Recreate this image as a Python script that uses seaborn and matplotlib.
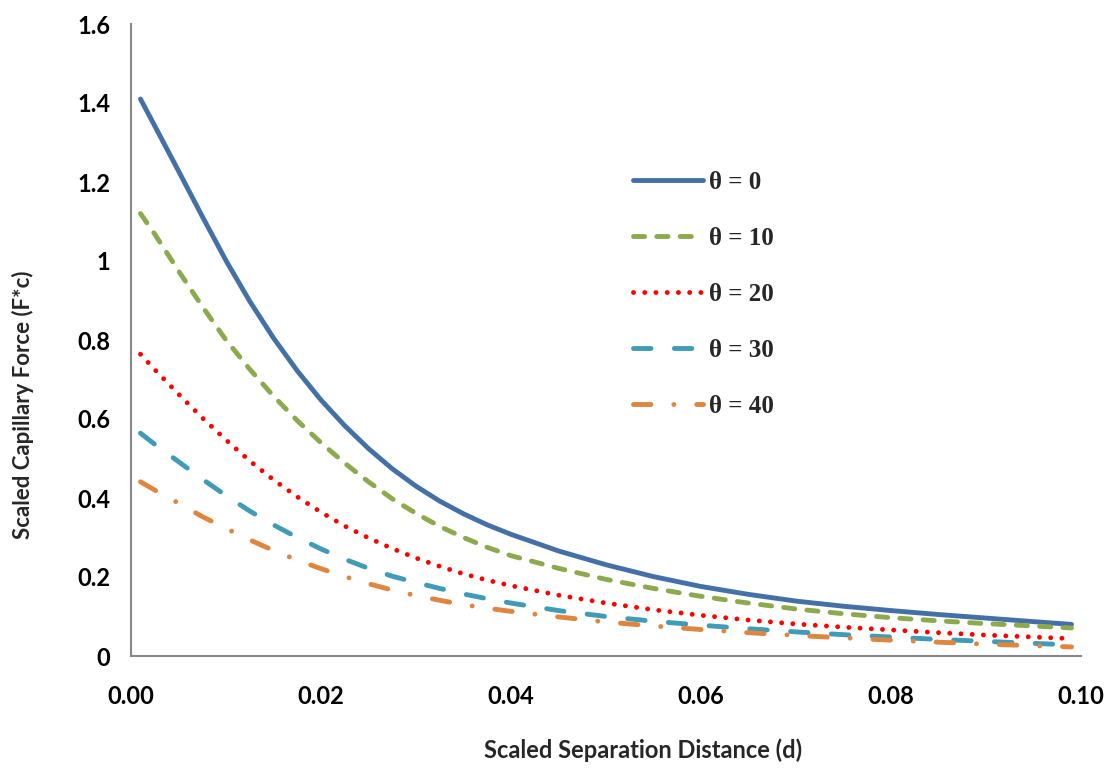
import matplotlib
matplotlib.use("Agg")
import matplotlib.pyplot as plt
import seaborn as sns
import pandas as pd

# ---- data ----
d_values = [0.001, 0.0025, 0.005, 0.0075, 0.010, 0.0125, 0.015, 0.0175, 0.020, 0.0225,
            0.025, 0.0275, 0.030, 0.0325, 0.035, 0.0375, 0.040, 0.045, 0.050, 0.055,
            0.060, 0.065, 0.070, 0.075, 0.080, 0.085, 0.090, 0.095, 0.099]
force_theta0 = [1.410, 1.342, 1.228, 1.113, 1.001, 0.898, 0.805, 0.722, 0.648, 0.583,
                0.525, 0.474, 0.430, 0.392, 0.360, 0.332, 0.308, 0.266, 0.231, 0.201,
                0.176, 0.156, 0.139, 0.126, 0.115, 0.105, 0.096, 0.087, 0.080]
force_theta10 = [1.120, 1.068, 0.975, 0.885, 0.800, 0.726, 0.658, 0.596, 0.540, 0.488,
                 0.441, 0.398, 0.361, 0.328, 0.300, 0.275, 0.254, 0.222, 0.194, 0.171,
                 0.151, 0.134, 0.119, 0.107, 0.097, 0.089, 0.082, 0.076, 0.071]
force_theta20 = [0.764, 0.725, 0.663, 0.603, 0.547, 0.494, 0.446, 0.403, 0.364, 0.329,
                 0.299, 0.272, 0.248, 0.227, 0.208, 0.192, 0.178, 0.154, 0.134, 0.117,
                 0.103, 0.091, 0.081, 0.073, 0.066, 0.059, 0.053, 0.048, 0.044]
force_theta30 = [0.564, 0.536, 0.492, 0.448, 0.406, 0.367, 0.332, 0.300, 0.271, 0.245,
                 0.222, 0.202, 0.186, 0.171, 0.157, 0.145, 0.134, 0.115, 0.100, 0.088,
                 0.078, 0.069, 0.061, 0.054, 0.048, 0.042, 0.037, 0.032, 0.028]
force_theta40 = [0.441, 0.420, 0.387, 0.353, 0.323, 0.294, 0.267, 0.243, 0.221, 0.201,
                 0.183, 0.167, 0.153, 0.141, 0.130, 0.121, 0.113, 0.099, 0.086, 0.076,
                 0.067, 0.059, 0.052, 0.046, 0.040, 0.035, 0.030, 0.026, 0.023]
series_labels = ["θ = 0", "θ = 10", "θ = 20", "θ = 30", "θ = 40"]
x_ticks = [0.00, 0.02, 0.04, 0.06, 0.08, 0.10]
x_tick_labels = ["0.00", "0.02", "0.04", "0.06", "0.08", "0.10"]
y_ticks = [0, 0.2, 0.4, 0.6, 0.8, 1.0, 1.2, 1.4, 1.6]
y_tick_labels = ["0", "0.2", "0.4", "0.6", "0.8", "1", "1.2", "1.4", "1.6"]

# ---- styles ----
colors = ["#4470A8", "#8CAA4B", "#FF0000", "#3F9BB6", "#E0853D"]
linestyles = ["-", (0, (2.3, 2.5)), (0, (0.01, 2.3)), (0, (3.6, 4.8)),
              (0, (3.6, 4.7, 0.01, 4.7))]
lw = 3.5

sns.set_theme(style="white")
plt.rcParams["font.family"] = ["Lato", "DejaVu Sans"]

fig = plt.figure(figsize=(11.15, 7.71), dpi=100)
ax = fig.add_axes([131 / 1115, 1 - 656 / 771, 950 / 1115, 632 / 771])

all_series = [force_theta0, force_theta10, force_theta20, force_theta30, force_theta40]
for vals, lab, col, ls in zip(all_series, series_labels, colors, linestyles):
    df = pd.DataFrame({"d": d_values, "F": vals})
    sns.lineplot(data=df, x="d", y="F", ax=ax, color=col, linewidth=lw,
                 linestyle=ls, label=lab, dash_capstyle="round",
                 solid_capstyle="round", solid_joinstyle="round",
                 dash_joinstyle="round")

ax.set_xlim(0, 0.10)
ax.set_ylim(0, 1.6)
ax.set_xticks(x_ticks)
ax.set_xticklabels(x_tick_labels)
ax.set_yticks(y_ticks)
ax.set_yticklabels(y_tick_labels)
for lab in ax.get_xticklabels() + ax.get_yticklabels():
    lab.set_fontweight("bold")
    lab.set_fontsize(17)
ax.tick_params(axis="both", direction="out", length=8, width=1.5, color="#888888",
               pad=7, labelcolor="black")
ax.tick_params(axis="x", pad=13)

for s in ["top", "right"]:
    ax.spines[s].set_visible(False)
for s in ["left", "bottom"]:
    ax.spines[s].set_color("#888888")
    ax.spines[s].set_linewidth(1.5)

ax.set_xlabel("Scaled Separation Distance (d)", fontsize=17, fontweight="bold")
ax.set_ylabel("Scaled Capillary Force (F*c)", fontsize=16, fontweight="bold")
ax.xaxis.set_label_coords((643 - 131) / 950, (656 - 738) / 632)
ax.yaxis.set_label_coords((34 - 131) / 950, (656 - 405) / 632)

leg = ax.legend(loc="upper left", bbox_to_anchor=((633 - 131) / 950, (656 - 171) / 632),
                frameon=False, borderaxespad=0, borderpad=0,
                prop={"family": "Liberation Serif", "size": 18, "weight": "bold"},
                handlelength=2.8, handletextpad=0.25, labelspacing=1.32)
for line in leg.get_lines():
    line.set_linewidth(lw)

fig.savefig("out.png", dpi=100)
